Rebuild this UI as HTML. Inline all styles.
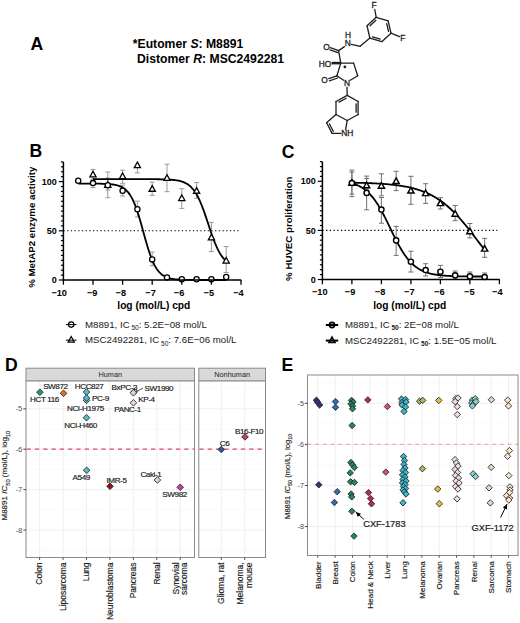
<!DOCTYPE html>
<html><head><meta charset="utf-8"><style>
html,body{margin:0;padding:0;background:#fff;width:520px;height:623px;overflow:hidden}
svg{display:block}
text{font-family:"Liberation Sans", sans-serif}
</style></head><body>
<svg width="520" height="623" viewBox="0 0 520 623">
<rect width="520" height="623" fill="#fff"/>
<g>
<text x="30.60" y="49.80" font-size="17.6" text-anchor="start" font-weight="bold" font-style="normal" fill="#000">A</text>
<text x="132.80" y="48.40" font-size="12.2" text-anchor="start" font-weight="bold" font-style="normal" fill="#000">*Eutomer <tspan font-style="italic">S</tspan>: M8891</text>
<text x="137.00" y="62.80" font-size="12.2" text-anchor="start" font-weight="bold" font-style="normal" fill="#000">Distomer <tspan font-style="italic">R</tspan>: MSC2492281</text>
<line x1="376.19" y1="17.32" x2="388.14" y2="20.98" stroke="#1e1e1e" stroke-width="1.3" stroke-linecap="round"/>
<line x1="388.14" y1="20.98" x2="390.95" y2="33.15" stroke="#1e1e1e" stroke-width="1.3" stroke-linecap="round"/>
<line x1="390.95" y1="33.15" x2="381.81" y2="41.68" stroke="#1e1e1e" stroke-width="1.3" stroke-linecap="round"/>
<line x1="381.81" y1="41.68" x2="369.86" y2="38.02" stroke="#1e1e1e" stroke-width="1.3" stroke-linecap="round"/>
<line x1="369.86" y1="38.02" x2="367.05" y2="25.85" stroke="#1e1e1e" stroke-width="1.3" stroke-linecap="round"/>
<line x1="367.05" y1="25.85" x2="376.19" y2="17.32" stroke="#1e1e1e" stroke-width="1.3" stroke-linecap="round"/>
<line x1="370.06" y1="25.77" x2="375.91" y2="20.32" stroke="#1e1e1e" stroke-width="1.3" stroke-linecap="round"/>
<line x1="386.70" y1="23.62" x2="388.50" y2="31.41" stroke="#1e1e1e" stroke-width="1.3" stroke-linecap="round"/>
<line x1="380.24" y1="39.11" x2="372.59" y2="36.77" stroke="#1e1e1e" stroke-width="1.3" stroke-linecap="round"/>
<line x1="376.19" y1="17.32" x2="374.80" y2="9.50" stroke="#1e1e1e" stroke-width="1.3" stroke-linecap="round"/>
<line x1="390.95" y1="33.15" x2="399.60" y2="36.60" stroke="#1e1e1e" stroke-width="1.3" stroke-linecap="round"/>
<text x="374.10" y="8.00" font-size="8.4" text-anchor="middle" font-weight="normal" font-style="normal" fill="#1e1e1e" stroke="#1e1e1e" stroke-width="0.3">F</text>
<text x="402.90" y="40.80" font-size="8.4" text-anchor="middle" font-weight="normal" font-style="normal" fill="#1e1e1e" stroke="#1e1e1e" stroke-width="0.3">F</text>
<line x1="369.86" y1="38.02" x2="360.20" y2="46.30" stroke="#1e1e1e" stroke-width="1.3" stroke-linecap="round"/>
<line x1="360.20" y1="46.30" x2="351.40" y2="44.40" stroke="#1e1e1e" stroke-width="1.3" stroke-linecap="round"/>
<text x="347.80" y="45.90" font-size="8.4" text-anchor="middle" font-weight="normal" font-style="normal" fill="#1e1e1e" stroke="#1e1e1e" stroke-width="0.3">N</text>
<text x="348.00" y="37.80" font-size="8.4" text-anchor="middle" font-weight="normal" font-style="normal" fill="#1e1e1e" stroke="#1e1e1e" stroke-width="0.3">H</text>
<line x1="344.40" y1="46.60" x2="338.60" y2="50.60" stroke="#1e1e1e" stroke-width="1.3" stroke-linecap="round"/>
<line x1="338.60" y1="50.60" x2="330.30" y2="47.60" stroke="#1e1e1e" stroke-width="1.3" stroke-linecap="round"/>
<line x1="337.90" y1="52.60" x2="330.00" y2="49.80" stroke="#1e1e1e" stroke-width="1.3" stroke-linecap="round"/>
<text x="326.60" y="49.90" font-size="8.4" text-anchor="middle" font-weight="normal" font-style="normal" fill="#1e1e1e" stroke="#1e1e1e" stroke-width="0.3">O</text>
<line x1="338.60" y1="50.60" x2="340.80" y2="63.10" stroke="#1e1e1e" stroke-width="1.3" stroke-linecap="round"/>
<line x1="331.60" y1="63.10" x2="340.80" y2="63.10" stroke="#1e1e1e" stroke-width="2.6"/>
<text x="325.00" y="66.50" font-size="8.4" text-anchor="middle" font-weight="normal" font-style="normal" fill="#1e1e1e" stroke="#1e1e1e" stroke-width="0.3">HO</text>
<line x1="340.80" y1="63.10" x2="353.60" y2="63.10" stroke="#1e1e1e" stroke-width="1.3" stroke-linecap="round"/>
<line x1="353.60" y1="63.10" x2="357.70" y2="75.80" stroke="#1e1e1e" stroke-width="1.3" stroke-linecap="round"/>
<line x1="357.70" y1="75.80" x2="350.30" y2="80.20" stroke="#1e1e1e" stroke-width="1.3" stroke-linecap="round"/>
<line x1="343.60" y1="80.20" x2="336.90" y2="75.80" stroke="#1e1e1e" stroke-width="1.3" stroke-linecap="round"/>
<line x1="336.90" y1="75.80" x2="340.80" y2="63.10" stroke="#1e1e1e" stroke-width="1.3" stroke-linecap="round"/>
<text x="347.00" y="86.10" font-size="8.4" text-anchor="middle" font-weight="normal" font-style="normal" fill="#1e1e1e" stroke="#1e1e1e" stroke-width="0.3">N</text>
<circle cx="344.9" cy="66.9" r="1.4" fill="#1e1e1e"/>
<line x1="336.90" y1="75.80" x2="328.80" y2="78.60" stroke="#1e1e1e" stroke-width="1.3" stroke-linecap="round"/>
<line x1="337.60" y1="78.00" x2="329.40" y2="80.80" stroke="#1e1e1e" stroke-width="1.3" stroke-linecap="round"/>
<text x="324.50" y="82.70" font-size="8.4" text-anchor="middle" font-weight="normal" font-style="normal" fill="#1e1e1e" stroke="#1e1e1e" stroke-width="0.3">O</text>
<line x1="347.00" y1="87.20" x2="347.20" y2="95.40" stroke="#1e1e1e" stroke-width="1.3" stroke-linecap="round"/>
<line x1="347.20" y1="95.40" x2="358.10" y2="101.50" stroke="#1e1e1e" stroke-width="1.3" stroke-linecap="round"/>
<line x1="358.10" y1="101.50" x2="358.10" y2="114.50" stroke="#1e1e1e" stroke-width="1.3" stroke-linecap="round"/>
<line x1="358.10" y1="114.50" x2="347.20" y2="120.50" stroke="#1e1e1e" stroke-width="1.3" stroke-linecap="round"/>
<line x1="347.20" y1="120.50" x2="336.00" y2="114.50" stroke="#1e1e1e" stroke-width="1.3" stroke-linecap="round"/>
<line x1="336.00" y1="114.50" x2="336.00" y2="101.50" stroke="#1e1e1e" stroke-width="1.3" stroke-linecap="round"/>
<line x1="336.00" y1="101.50" x2="347.20" y2="95.40" stroke="#1e1e1e" stroke-width="1.3" stroke-linecap="round"/>
<line x1="339.01" y1="102.14" x2="346.18" y2="98.23" stroke="#1e1e1e" stroke-width="1.3" stroke-linecap="round"/>
<line x1="356.10" y1="103.84" x2="356.10" y2="112.16" stroke="#1e1e1e" stroke-width="1.3" stroke-linecap="round"/>
<line x1="336.00" y1="114.50" x2="326.60" y2="122.70" stroke="#1e1e1e" stroke-width="1.3" stroke-linecap="round"/>
<line x1="326.60" y1="122.70" x2="332.10" y2="133.40" stroke="#1e1e1e" stroke-width="1.3" stroke-linecap="round"/>
<line x1="332.10" y1="133.40" x2="340.80" y2="133.40" stroke="#1e1e1e" stroke-width="1.3" stroke-linecap="round"/>
<line x1="347.20" y1="120.50" x2="345.60" y2="129.60" stroke="#1e1e1e" stroke-width="1.3" stroke-linecap="round"/>
<line x1="329.36" y1="123.82" x2="333.21" y2="131.31" stroke="#1e1e1e" stroke-width="1.3" stroke-linecap="round"/>
<text x="347.30" y="136.30" font-size="8.4" text-anchor="middle" font-weight="normal" font-style="normal" fill="#1e1e1e" stroke="#1e1e1e" stroke-width="0.3">NH</text>
</g>
<g>
<line x1="63.40" y1="230.80" x2="239.00" y2="230.80" stroke="#000" stroke-width="1.1" stroke-dasharray="1.3,2.4"/>
<line x1="93.00" y1="180.00" x2="93.00" y2="187.50" stroke="#9a9a9a" stroke-width="1.0"/>
<line x1="90.50" y1="180.00" x2="95.50" y2="180.00" stroke="#9a9a9a" stroke-width="1.0"/>
<line x1="90.50" y1="187.50" x2="95.50" y2="187.50" stroke="#9a9a9a" stroke-width="1.0"/>
<line x1="107.80" y1="172.00" x2="107.80" y2="197.70" stroke="#9a9a9a" stroke-width="1.0"/>
<line x1="105.30" y1="172.00" x2="110.30" y2="172.00" stroke="#9a9a9a" stroke-width="1.0"/>
<line x1="105.30" y1="197.70" x2="110.30" y2="197.70" stroke="#9a9a9a" stroke-width="1.0"/>
<line x1="122.60" y1="185.20" x2="122.60" y2="196.00" stroke="#9a9a9a" stroke-width="1.0"/>
<line x1="120.10" y1="185.20" x2="125.10" y2="185.20" stroke="#9a9a9a" stroke-width="1.0"/>
<line x1="120.10" y1="196.00" x2="125.10" y2="196.00" stroke="#9a9a9a" stroke-width="1.0"/>
<line x1="137.40" y1="201.10" x2="137.40" y2="217.00" stroke="#9a9a9a" stroke-width="1.0"/>
<line x1="134.90" y1="201.10" x2="139.90" y2="201.10" stroke="#9a9a9a" stroke-width="1.0"/>
<line x1="134.90" y1="217.00" x2="139.90" y2="217.00" stroke="#9a9a9a" stroke-width="1.0"/>
<line x1="152.20" y1="252.00" x2="152.20" y2="265.70" stroke="#9a9a9a" stroke-width="1.0"/>
<line x1="149.70" y1="252.00" x2="154.70" y2="252.00" stroke="#9a9a9a" stroke-width="1.0"/>
<line x1="149.70" y1="265.70" x2="154.70" y2="265.70" stroke="#9a9a9a" stroke-width="1.0"/>
<line x1="93.00" y1="169.40" x2="93.00" y2="179.00" stroke="#9a9a9a" stroke-width="1.0"/>
<line x1="90.50" y1="169.40" x2="95.50" y2="169.40" stroke="#9a9a9a" stroke-width="1.0"/>
<line x1="90.50" y1="179.00" x2="95.50" y2="179.00" stroke="#9a9a9a" stroke-width="1.0"/>
<line x1="107.80" y1="178.00" x2="107.80" y2="190.00" stroke="#9a9a9a" stroke-width="1.0"/>
<line x1="105.30" y1="178.00" x2="110.30" y2="178.00" stroke="#9a9a9a" stroke-width="1.0"/>
<line x1="105.30" y1="190.00" x2="110.30" y2="190.00" stroke="#9a9a9a" stroke-width="1.0"/>
<line x1="122.60" y1="170.20" x2="122.60" y2="183.30" stroke="#9a9a9a" stroke-width="1.0"/>
<line x1="120.10" y1="170.20" x2="125.10" y2="170.20" stroke="#9a9a9a" stroke-width="1.0"/>
<line x1="120.10" y1="183.30" x2="125.10" y2="183.30" stroke="#9a9a9a" stroke-width="1.0"/>
<line x1="137.40" y1="161.92" x2="137.40" y2="172.90" stroke="#9a9a9a" stroke-width="1.0"/>
<line x1="134.90" y1="172.90" x2="139.90" y2="172.90" stroke="#9a9a9a" stroke-width="1.0"/>
<line x1="152.20" y1="182.10" x2="152.20" y2="195.40" stroke="#9a9a9a" stroke-width="1.0"/>
<line x1="149.70" y1="182.10" x2="154.70" y2="182.10" stroke="#9a9a9a" stroke-width="1.0"/>
<line x1="149.70" y1="195.40" x2="154.70" y2="195.40" stroke="#9a9a9a" stroke-width="1.0"/>
<line x1="167.00" y1="164.20" x2="167.00" y2="191.70" stroke="#9a9a9a" stroke-width="1.0"/>
<line x1="164.50" y1="164.20" x2="169.50" y2="164.20" stroke="#9a9a9a" stroke-width="1.0"/>
<line x1="164.50" y1="191.70" x2="169.50" y2="191.70" stroke="#9a9a9a" stroke-width="1.0"/>
<line x1="181.80" y1="188.70" x2="181.80" y2="208.40" stroke="#9a9a9a" stroke-width="1.0"/>
<line x1="179.30" y1="188.70" x2="184.30" y2="188.70" stroke="#9a9a9a" stroke-width="1.0"/>
<line x1="179.30" y1="208.40" x2="184.30" y2="208.40" stroke="#9a9a9a" stroke-width="1.0"/>
<line x1="196.60" y1="182.60" x2="196.60" y2="198.30" stroke="#9a9a9a" stroke-width="1.0"/>
<line x1="194.10" y1="182.60" x2="199.10" y2="182.60" stroke="#9a9a9a" stroke-width="1.0"/>
<line x1="194.10" y1="198.30" x2="199.10" y2="198.30" stroke="#9a9a9a" stroke-width="1.0"/>
<line x1="211.40" y1="222.40" x2="211.40" y2="251.60" stroke="#9a9a9a" stroke-width="1.0"/>
<line x1="208.90" y1="222.40" x2="213.90" y2="222.40" stroke="#9a9a9a" stroke-width="1.0"/>
<line x1="208.90" y1="251.60" x2="213.90" y2="251.60" stroke="#9a9a9a" stroke-width="1.0"/>
<line x1="226.20" y1="246.60" x2="226.20" y2="272.50" stroke="#9a9a9a" stroke-width="1.0"/>
<line x1="223.70" y1="246.60" x2="228.70" y2="246.60" stroke="#9a9a9a" stroke-width="1.0"/>
<line x1="223.70" y1="272.50" x2="228.70" y2="272.50" stroke="#9a9a9a" stroke-width="1.0"/>
<polyline points="78.20,183.57 79.43,183.57 80.67,183.58 81.90,183.58 83.13,183.58 84.37,183.58 85.60,183.58 86.83,183.59 88.07,183.59 89.30,183.59 90.53,183.60 91.77,183.61 93.00,183.61 94.23,183.62 95.47,183.64 96.70,183.65 97.93,183.67 99.17,183.69 100.40,183.71 101.63,183.74 102.87,183.78 104.10,183.82 105.33,183.87 106.57,183.93 107.80,184.01 109.03,184.10 110.27,184.20 111.50,184.33 112.73,184.49 113.97,184.68 115.20,184.90 116.43,185.17 117.67,185.50 118.90,185.88 120.13,186.35 121.37,186.90 122.60,187.56 123.83,188.34 125.07,189.26 126.30,190.35 127.53,191.63 128.77,193.12 130.00,194.86 131.23,196.86 132.47,199.15 133.70,201.75 134.93,204.68 136.17,207.92 137.40,211.48 138.63,215.33 139.87,219.44 141.10,223.74 142.33,228.18 143.57,232.69 144.80,237.17 146.03,241.57 147.27,245.80 148.50,249.81 149.73,253.55 150.97,256.98 152.20,260.10 153.43,262.89 154.67,265.37 155.90,267.54 157.13,269.44 158.37,271.07 159.60,272.48 160.83,273.68 162.07,274.70 163.30,275.56 164.53,276.29 165.77,276.90 167.00,277.42 168.23,277.85 169.47,278.21 170.70,278.51 171.93,278.76 173.17,278.97 174.40,279.14 175.63,279.29 176.87,279.41 178.10,279.51 179.33,279.59 180.57,279.66 181.80,279.72 183.03,279.77 184.27,279.81 185.50,279.84 186.73,279.87 187.97,279.89 189.20,279.91 190.43,279.92 191.67,279.94 192.90,279.95 194.13,279.96 195.37,279.96 196.60,279.97 197.83,279.98 199.07,279.98 200.30,279.98 201.53,279.99 202.77,279.99 204.00,279.99 205.23,279.99 206.47,279.99 207.70,279.99 208.93,280.00 210.17,280.00 211.40,280.00 212.63,280.00 213.87,280.00 215.10,280.00 216.33,280.00 217.57,280.00 218.80,280.00 220.03,280.00 221.27,280.00 222.50,280.00 223.73,280.00 224.97,280.00 226.20,280.00" fill="none" stroke="#000" stroke-width="1.8" stroke-linejoin="round"/>
<polyline points="93.00,179.14 94.11,179.14 95.22,179.14 96.33,179.14 97.44,179.14 98.55,179.14 99.66,179.14 100.77,179.14 101.88,179.14 102.99,179.14 104.10,179.14 105.21,179.14 106.32,179.14 107.43,179.14 108.54,179.14 109.65,179.14 110.76,179.14 111.87,179.14 112.98,179.14 114.09,179.14 115.20,179.14 116.31,179.14 117.42,179.14 118.53,179.14 119.64,179.14 120.75,179.14 121.86,179.14 122.97,179.14 124.08,179.14 125.19,179.14 126.30,179.14 127.41,179.14 128.52,179.14 129.63,179.14 130.74,179.14 131.85,179.14 132.96,179.14 134.07,179.14 135.18,179.14 136.29,179.15 137.40,179.15 138.51,179.15 139.62,179.15 140.73,179.15 141.84,179.15 142.95,179.15 144.06,179.15 145.17,179.16 146.28,179.16 147.39,179.16 148.50,179.17 149.61,179.17 150.72,179.18 151.83,179.18 152.94,179.19 154.05,179.20 155.16,179.21 156.27,179.22 157.38,179.23 158.49,179.24 159.60,179.26 160.71,179.28 161.82,179.30 162.93,179.33 164.04,179.36 165.15,179.39 166.26,179.44 167.37,179.48 168.48,179.54 169.59,179.61 170.70,179.68 171.81,179.77 172.92,179.87 174.03,179.99 175.14,180.13 176.25,180.28 177.36,180.47 178.47,180.68 179.58,180.93 180.69,181.21 181.80,181.54 182.91,181.92 184.02,182.36 185.13,182.86 186.24,183.44 187.35,184.10 188.46,184.86 189.57,185.72 190.68,186.70 191.79,187.81 192.90,189.07 194.01,190.49 195.12,192.07 196.23,193.83 197.34,195.78 198.45,197.92 199.56,200.26 200.67,202.79 201.78,205.50 202.89,208.39 204.00,211.43 205.11,214.60 206.22,217.87 207.33,221.20 208.44,224.56 209.55,227.91 210.66,231.22 211.77,234.44 212.88,237.54 213.99,240.50 215.10,243.30 216.21,245.92 217.32,248.35 218.43,250.58 219.54,252.62 220.65,254.47 221.76,256.13 222.87,257.62 223.98,258.95 225.09,260.13 226.20,261.17" fill="none" stroke="#000" stroke-width="1.8" stroke-linejoin="round"/>
<polygon points="93.00,171.24 96.10,176.84 89.90,176.84" fill="#fff" stroke="#000" stroke-width="1.3" stroke-linejoin="miter"/>
<polygon points="107.80,181.64 110.90,187.24 104.70,187.24" fill="#fff" stroke="#000" stroke-width="1.3" stroke-linejoin="miter"/>
<polygon points="122.60,172.94 125.70,178.54 119.50,178.54" fill="#fff" stroke="#000" stroke-width="1.3" stroke-linejoin="miter"/>
<polygon points="137.40,162.04 140.50,167.64 134.30,167.64" fill="#fff" stroke="#000" stroke-width="1.3" stroke-linejoin="miter"/>
<polygon points="152.20,185.64 155.30,191.24 149.10,191.24" fill="#fff" stroke="#000" stroke-width="1.3" stroke-linejoin="miter"/>
<polygon points="167.00,174.74 170.10,180.34 163.90,180.34" fill="#fff" stroke="#000" stroke-width="1.3" stroke-linejoin="miter"/>
<polygon points="181.80,194.94 184.90,200.54 178.70,200.54" fill="#fff" stroke="#000" stroke-width="1.3" stroke-linejoin="miter"/>
<polygon points="196.60,187.64 199.70,193.24 193.50,193.24" fill="#fff" stroke="#000" stroke-width="1.3" stroke-linejoin="miter"/>
<polygon points="211.40,234.24 214.50,239.84 208.30,239.84" fill="#fff" stroke="#000" stroke-width="1.3" stroke-linejoin="miter"/>
<polygon points="226.20,257.44 229.30,263.04 223.10,263.04" fill="#fff" stroke="#000" stroke-width="1.3" stroke-linejoin="miter"/>
<circle cx="78.20" cy="180.80" r="2.6" fill="#fff" stroke="#000" stroke-width="1.3"/>
<circle cx="93.00" cy="183.10" r="2.6" fill="#fff" stroke="#000" stroke-width="1.3"/>
<circle cx="107.80" cy="185.20" r="2.6" fill="#fff" stroke="#000" stroke-width="1.3"/>
<circle cx="122.60" cy="190.80" r="2.6" fill="#fff" stroke="#000" stroke-width="1.3"/>
<circle cx="137.40" cy="209.20" r="2.6" fill="#fff" stroke="#000" stroke-width="1.3"/>
<circle cx="152.20" cy="259.40" r="2.6" fill="#fff" stroke="#000" stroke-width="1.3"/>
<circle cx="167.00" cy="277.40" r="2.6" fill="#fff" stroke="#000" stroke-width="1.3"/>
<circle cx="181.80" cy="279.20" r="2.6" fill="#fff" stroke="#000" stroke-width="1.3"/>
<circle cx="196.60" cy="279.20" r="2.6" fill="#fff" stroke="#000" stroke-width="1.3"/>
<circle cx="211.40" cy="279.20" r="2.6" fill="#fff" stroke="#000" stroke-width="1.3"/>
<circle cx="226.20" cy="277.00" r="2.6" fill="#fff" stroke="#000" stroke-width="1.3"/>
<line x1="63.40" y1="161.92" x2="63.40" y2="280.75" stroke="#000" stroke-width="1.5"/>
<line x1="62.65" y1="280.00" x2="241.30" y2="280.00" stroke="#000" stroke-width="1.5"/>
<line x1="58.80" y1="280.00" x2="63.40" y2="280.00" stroke="#000" stroke-width="1.2"/>
<line x1="60.90" y1="275.08" x2="63.40" y2="275.08" stroke="#000" stroke-width="1.2"/>
<line x1="60.90" y1="270.16" x2="63.40" y2="270.16" stroke="#000" stroke-width="1.2"/>
<line x1="60.90" y1="265.24" x2="63.40" y2="265.24" stroke="#000" stroke-width="1.2"/>
<line x1="60.90" y1="260.32" x2="63.40" y2="260.32" stroke="#000" stroke-width="1.2"/>
<line x1="60.90" y1="255.40" x2="63.40" y2="255.40" stroke="#000" stroke-width="1.2"/>
<line x1="60.90" y1="250.48" x2="63.40" y2="250.48" stroke="#000" stroke-width="1.2"/>
<line x1="60.90" y1="245.56" x2="63.40" y2="245.56" stroke="#000" stroke-width="1.2"/>
<line x1="60.90" y1="240.64" x2="63.40" y2="240.64" stroke="#000" stroke-width="1.2"/>
<line x1="60.90" y1="235.72" x2="63.40" y2="235.72" stroke="#000" stroke-width="1.2"/>
<line x1="58.80" y1="230.80" x2="63.40" y2="230.80" stroke="#000" stroke-width="1.2"/>
<line x1="60.90" y1="225.88" x2="63.40" y2="225.88" stroke="#000" stroke-width="1.2"/>
<line x1="60.90" y1="220.96" x2="63.40" y2="220.96" stroke="#000" stroke-width="1.2"/>
<line x1="60.90" y1="216.04" x2="63.40" y2="216.04" stroke="#000" stroke-width="1.2"/>
<line x1="60.90" y1="211.12" x2="63.40" y2="211.12" stroke="#000" stroke-width="1.2"/>
<line x1="60.90" y1="206.20" x2="63.40" y2="206.20" stroke="#000" stroke-width="1.2"/>
<line x1="60.90" y1="201.28" x2="63.40" y2="201.28" stroke="#000" stroke-width="1.2"/>
<line x1="60.90" y1="196.36" x2="63.40" y2="196.36" stroke="#000" stroke-width="1.2"/>
<line x1="60.90" y1="191.44" x2="63.40" y2="191.44" stroke="#000" stroke-width="1.2"/>
<line x1="60.90" y1="186.52" x2="63.40" y2="186.52" stroke="#000" stroke-width="1.2"/>
<line x1="58.80" y1="181.60" x2="63.40" y2="181.60" stroke="#000" stroke-width="1.2"/>
<line x1="60.90" y1="176.68" x2="63.40" y2="176.68" stroke="#000" stroke-width="1.2"/>
<line x1="60.90" y1="171.76" x2="63.40" y2="171.76" stroke="#000" stroke-width="1.2"/>
<line x1="60.90" y1="166.84" x2="63.40" y2="166.84" stroke="#000" stroke-width="1.2"/>
<line x1="60.90" y1="161.92" x2="63.40" y2="161.92" stroke="#000" stroke-width="1.2"/>
<line x1="63.40" y1="280.00" x2="63.40" y2="284.70" stroke="#000" stroke-width="1.3"/>
<line x1="93.00" y1="280.00" x2="93.00" y2="284.70" stroke="#000" stroke-width="1.3"/>
<line x1="122.60" y1="280.00" x2="122.60" y2="284.70" stroke="#000" stroke-width="1.3"/>
<line x1="152.20" y1="280.00" x2="152.20" y2="284.70" stroke="#000" stroke-width="1.3"/>
<line x1="181.80" y1="280.00" x2="181.80" y2="284.70" stroke="#000" stroke-width="1.3"/>
<line x1="211.40" y1="280.00" x2="211.40" y2="284.70" stroke="#000" stroke-width="1.3"/>
<line x1="241.00" y1="280.00" x2="241.00" y2="284.70" stroke="#000" stroke-width="1.3"/>
<text x="56.80" y="283.10" font-size="9.0" text-anchor="end" font-weight="bold" font-style="normal" fill="#000">0</text>
<text x="56.80" y="233.90" font-size="9.0" text-anchor="end" font-weight="bold" font-style="normal" fill="#000">50</text>
<text x="56.80" y="184.70" font-size="9.0" text-anchor="end" font-weight="bold" font-style="normal" fill="#000">100</text>
<text x="59.20" y="295.60" font-size="9.2" text-anchor="middle" font-weight="bold" font-style="normal" fill="#000">−10</text>
<text x="92.20" y="295.60" font-size="9.2" text-anchor="middle" font-weight="bold" font-style="normal" fill="#000">−9</text>
<text x="120.80" y="295.60" font-size="9.2" text-anchor="middle" font-weight="bold" font-style="normal" fill="#000">−8</text>
<text x="150.60" y="295.60" font-size="9.2" text-anchor="middle" font-weight="bold" font-style="normal" fill="#000">−7</text>
<text x="179.10" y="295.60" font-size="9.2" text-anchor="middle" font-weight="bold" font-style="normal" fill="#000">−6</text>
<text x="208.80" y="295.60" font-size="9.2" text-anchor="middle" font-weight="bold" font-style="normal" fill="#000">−5</text>
<text x="238.40" y="295.60" font-size="9.2" text-anchor="middle" font-weight="bold" font-style="normal" fill="#000">−4</text>
<text x="153.80" y="309.40" font-size="10.2" text-anchor="middle" font-weight="bold" font-style="normal" fill="#000">log (mol/L) cpd</text>
<text x="34.80" y="227.20" font-size="9.7" text-anchor="middle" font-weight="bold" font-style="normal" fill="#000" transform="rotate(-90 34.8 227.2)">% MetAP2 enzyme activity</text>
<line x1="65.90" y1="324.60" x2="76.50" y2="324.60" stroke="#000" stroke-width="1.0"/>
<circle cx="71.20" cy="324.60" r="2.7" fill="none" stroke="#000" stroke-width="1.2"/>
<text x="85.00" y="327.70" font-size="9.7" fill="#1a1a1a">M8891, IC<tspan font-size="6.6" dx="1.7" dy="2.2">50</tspan><tspan dy="-2.2">: 5.2E−08 mol/L</tspan></text>
<line x1="65.90" y1="340.20" x2="76.50" y2="340.20" stroke="#000" stroke-width="1.0"/>
<polygon points="71.20,336.54 74.30,342.14 68.10,342.14" fill="none" stroke="#000" stroke-width="1.2"/>
<text x="85.00" y="343.30" font-size="9.7" fill="#1a1a1a">MSC2492281, IC<tspan font-size="6.6" dx="1.7" dy="2.2">50</tspan><tspan dy="-2.2">: 7.6E−06 mol/L</tspan></text>
<line x1="322.40" y1="230.40" x2="497.40" y2="230.40" stroke="#000" stroke-width="1.1" stroke-dasharray="1.3,2.4"/>
<line x1="351.90" y1="170.10" x2="351.90" y2="196.70" stroke="#707070" stroke-width="1.0"/>
<line x1="349.40" y1="170.10" x2="354.40" y2="170.10" stroke="#707070" stroke-width="1.0"/>
<line x1="349.40" y1="196.70" x2="354.40" y2="196.70" stroke="#707070" stroke-width="1.0"/>
<line x1="366.65" y1="178.50" x2="366.65" y2="209.80" stroke="#707070" stroke-width="1.0"/>
<line x1="364.15" y1="178.50" x2="369.15" y2="178.50" stroke="#707070" stroke-width="1.0"/>
<line x1="364.15" y1="209.80" x2="369.15" y2="209.80" stroke="#707070" stroke-width="1.0"/>
<line x1="381.40" y1="197.50" x2="381.40" y2="223.20" stroke="#707070" stroke-width="1.0"/>
<line x1="378.90" y1="197.50" x2="383.90" y2="197.50" stroke="#707070" stroke-width="1.0"/>
<line x1="378.90" y1="223.20" x2="383.90" y2="223.20" stroke="#707070" stroke-width="1.0"/>
<line x1="396.15" y1="226.40" x2="396.15" y2="255.40" stroke="#707070" stroke-width="1.0"/>
<line x1="393.65" y1="226.40" x2="398.65" y2="226.40" stroke="#707070" stroke-width="1.0"/>
<line x1="393.65" y1="255.40" x2="398.65" y2="255.40" stroke="#707070" stroke-width="1.0"/>
<line x1="410.90" y1="251.20" x2="410.90" y2="272.00" stroke="#707070" stroke-width="1.0"/>
<line x1="408.40" y1="251.20" x2="413.40" y2="251.20" stroke="#707070" stroke-width="1.0"/>
<line x1="408.40" y1="272.00" x2="413.40" y2="272.00" stroke="#707070" stroke-width="1.0"/>
<line x1="425.65" y1="263.70" x2="425.65" y2="276.00" stroke="#707070" stroke-width="1.0"/>
<line x1="423.15" y1="263.70" x2="428.15" y2="263.70" stroke="#707070" stroke-width="1.0"/>
<line x1="423.15" y1="276.00" x2="428.15" y2="276.00" stroke="#707070" stroke-width="1.0"/>
<line x1="440.40" y1="265.40" x2="440.40" y2="277.50" stroke="#707070" stroke-width="1.0"/>
<line x1="437.90" y1="265.40" x2="442.90" y2="265.40" stroke="#707070" stroke-width="1.0"/>
<line x1="437.90" y1="277.50" x2="442.90" y2="277.50" stroke="#707070" stroke-width="1.0"/>
<line x1="455.15" y1="271.00" x2="455.15" y2="279.00" stroke="#707070" stroke-width="1.0"/>
<line x1="452.65" y1="271.00" x2="457.65" y2="271.00" stroke="#707070" stroke-width="1.0"/>
<line x1="452.65" y1="279.00" x2="457.65" y2="279.00" stroke="#707070" stroke-width="1.0"/>
<line x1="469.90" y1="272.00" x2="469.90" y2="279.00" stroke="#707070" stroke-width="1.0"/>
<line x1="467.40" y1="272.00" x2="472.40" y2="272.00" stroke="#707070" stroke-width="1.0"/>
<line x1="467.40" y1="279.00" x2="472.40" y2="279.00" stroke="#707070" stroke-width="1.0"/>
<line x1="484.65" y1="273.00" x2="484.65" y2="279.00" stroke="#707070" stroke-width="1.0"/>
<line x1="482.15" y1="273.00" x2="487.15" y2="273.00" stroke="#707070" stroke-width="1.0"/>
<line x1="482.15" y1="279.00" x2="487.15" y2="279.00" stroke="#707070" stroke-width="1.0"/>
<line x1="351.90" y1="172.00" x2="351.90" y2="194.00" stroke="#707070" stroke-width="1.0"/>
<line x1="349.40" y1="172.00" x2="354.40" y2="172.00" stroke="#707070" stroke-width="1.0"/>
<line x1="349.40" y1="194.00" x2="354.40" y2="194.00" stroke="#707070" stroke-width="1.0"/>
<line x1="366.65" y1="176.10" x2="366.65" y2="189.00" stroke="#707070" stroke-width="1.0"/>
<line x1="364.15" y1="176.10" x2="369.15" y2="176.10" stroke="#707070" stroke-width="1.0"/>
<line x1="364.15" y1="189.00" x2="369.15" y2="189.00" stroke="#707070" stroke-width="1.0"/>
<line x1="381.40" y1="173.80" x2="381.40" y2="195.80" stroke="#707070" stroke-width="1.0"/>
<line x1="378.90" y1="173.80" x2="383.90" y2="173.80" stroke="#707070" stroke-width="1.0"/>
<line x1="378.90" y1="195.80" x2="383.90" y2="195.80" stroke="#707070" stroke-width="1.0"/>
<line x1="396.15" y1="171.30" x2="396.15" y2="190.60" stroke="#707070" stroke-width="1.0"/>
<line x1="393.65" y1="171.30" x2="398.65" y2="171.30" stroke="#707070" stroke-width="1.0"/>
<line x1="393.65" y1="190.60" x2="398.65" y2="190.60" stroke="#707070" stroke-width="1.0"/>
<line x1="410.90" y1="176.30" x2="410.90" y2="204.30" stroke="#707070" stroke-width="1.0"/>
<line x1="408.40" y1="176.30" x2="413.40" y2="176.30" stroke="#707070" stroke-width="1.0"/>
<line x1="408.40" y1="204.30" x2="413.40" y2="204.30" stroke="#707070" stroke-width="1.0"/>
<line x1="425.65" y1="183.70" x2="425.65" y2="203.40" stroke="#707070" stroke-width="1.0"/>
<line x1="423.15" y1="183.70" x2="428.15" y2="183.70" stroke="#707070" stroke-width="1.0"/>
<line x1="423.15" y1="203.40" x2="428.15" y2="203.40" stroke="#707070" stroke-width="1.0"/>
<line x1="440.40" y1="197.70" x2="440.40" y2="209.00" stroke="#707070" stroke-width="1.0"/>
<line x1="437.90" y1="197.70" x2="442.90" y2="197.70" stroke="#707070" stroke-width="1.0"/>
<line x1="437.90" y1="209.00" x2="442.90" y2="209.00" stroke="#707070" stroke-width="1.0"/>
<line x1="455.15" y1="205.50" x2="455.15" y2="220.70" stroke="#707070" stroke-width="1.0"/>
<line x1="452.65" y1="205.50" x2="457.65" y2="205.50" stroke="#707070" stroke-width="1.0"/>
<line x1="452.65" y1="220.70" x2="457.65" y2="220.70" stroke="#707070" stroke-width="1.0"/>
<line x1="469.90" y1="223.50" x2="469.90" y2="237.90" stroke="#707070" stroke-width="1.0"/>
<line x1="467.40" y1="223.50" x2="472.40" y2="223.50" stroke="#707070" stroke-width="1.0"/>
<line x1="467.40" y1="237.90" x2="472.40" y2="237.90" stroke="#707070" stroke-width="1.0"/>
<line x1="484.65" y1="238.30" x2="484.65" y2="257.30" stroke="#707070" stroke-width="1.0"/>
<line x1="482.15" y1="238.30" x2="487.15" y2="238.30" stroke="#707070" stroke-width="1.0"/>
<line x1="482.15" y1="257.30" x2="487.15" y2="257.30" stroke="#707070" stroke-width="1.0"/>
<polyline points="351.90,183.29 353.01,183.62 354.11,183.99 355.22,184.38 356.32,184.81 357.43,185.28 358.54,185.79 359.64,186.34 360.75,186.94 361.86,187.60 362.96,188.30 364.07,189.07 365.17,189.89 366.28,190.78 367.39,191.74 368.49,192.77 369.60,193.87 370.71,195.05 371.81,196.31 372.92,197.65 374.02,199.07 375.13,200.57 376.24,202.16 377.34,203.84 378.45,205.59 379.56,207.43 380.66,209.34 381.77,211.32 382.88,213.37 383.98,215.48 385.09,217.64 386.19,219.85 387.30,222.10 388.41,224.37 389.51,226.66 390.62,228.96 391.72,231.25 392.83,233.53 393.94,235.78 395.04,238.01 396.15,240.18 397.26,242.31 398.36,244.38 399.47,246.39 400.57,248.33 401.68,250.19 402.79,251.97 403.89,253.67 405.00,255.29 406.11,256.82 407.21,258.27 408.32,259.64 409.42,260.92 410.53,262.13 411.64,263.26 412.74,264.31 413.85,265.29 414.96,266.20 416.06,267.05 417.17,267.83 418.27,268.55 419.38,269.22 420.49,269.84 421.59,270.41 422.70,270.94 423.81,271.42 424.91,271.86 426.02,272.27 427.12,272.64 428.23,272.98 429.34,273.29 430.44,273.58 431.55,273.84 432.66,274.08 433.76,274.30 434.87,274.50 435.97,274.68 437.08,274.85 438.19,275.00 439.29,275.14 440.40,275.27 441.51,275.38 442.61,275.49 443.72,275.58 444.82,275.67 445.93,275.75 447.04,275.82 448.14,275.89 449.25,275.95 450.36,276.00 451.46,276.05 452.57,276.10 453.67,276.14 454.78,276.18 455.89,276.21 456.99,276.24 458.10,276.27 459.21,276.30 460.31,276.32 461.42,276.34 462.52,276.36 463.63,276.38 464.74,276.39 465.84,276.41 466.95,276.42 468.06,276.43 469.16,276.44 470.27,276.45 471.38,276.46 472.48,276.47 473.59,276.48 474.69,276.49 475.80,276.49 476.91,276.50 478.01,276.50 479.12,276.51 480.22,276.51 481.33,276.52 482.44,276.52 483.54,276.52 484.65,276.52" fill="none" stroke="#000" stroke-width="1.8" stroke-linejoin="round"/>
<polyline points="351.90,182.68 353.01,182.70 354.11,182.72 355.22,182.74 356.32,182.77 357.43,182.79 358.54,182.82 359.64,182.84 360.75,182.87 361.86,182.90 362.96,182.93 364.07,182.97 365.17,183.00 366.28,183.04 367.39,183.08 368.49,183.12 369.60,183.16 370.71,183.21 371.81,183.25 372.92,183.30 374.02,183.35 375.13,183.41 376.24,183.47 377.34,183.53 378.45,183.59 379.56,183.65 380.66,183.72 381.77,183.80 382.88,183.87 383.98,183.95 385.09,184.04 386.19,184.13 387.30,184.22 388.41,184.32 389.51,184.42 390.62,184.53 391.72,184.64 392.83,184.76 393.94,184.89 395.04,185.02 396.15,185.15 397.26,185.30 398.36,185.45 399.47,185.61 400.57,185.77 401.68,185.94 402.79,186.13 403.89,186.32 405.00,186.52 406.11,186.73 407.21,186.94 408.32,187.17 409.42,187.41 410.53,187.67 411.64,187.93 412.74,188.20 413.85,188.49 414.96,188.79 416.06,189.11 417.17,189.44 418.27,189.78 419.38,190.14 420.49,190.51 421.59,190.91 422.70,191.31 423.81,191.74 424.91,192.18 426.02,192.65 427.12,193.13 428.23,193.63 429.34,194.15 430.44,194.70 431.55,195.27 432.66,195.85 433.76,196.47 434.87,197.10 435.97,197.76 437.08,198.44 438.19,199.15 439.29,199.89 440.40,200.65 441.51,201.44 442.61,202.25 443.72,203.09 444.82,203.96 445.93,204.86 447.04,205.78 448.14,206.73 449.25,207.71 450.36,208.72 451.46,209.76 452.57,210.82 453.67,211.91 454.78,213.03 455.89,214.17 456.99,215.35 458.10,216.54 459.21,217.76 460.31,219.01 461.42,220.27 462.52,221.56 463.63,222.87 464.74,224.21 465.84,225.55 466.95,226.92 468.06,228.30 469.16,229.70 470.27,231.11 471.38,232.53 472.48,233.96 473.59,235.40 474.69,236.84 475.80,238.29 476.91,239.74 478.01,241.19 479.12,242.64 480.22,244.08 481.33,245.52 482.44,246.96 483.54,248.39 484.65,249.80" fill="none" stroke="#000" stroke-width="1.8" stroke-linejoin="round"/>
<polygon points="351.90,179.64 355.00,185.24 348.80,185.24" fill="#fff" stroke="#000" stroke-width="1.45" stroke-linejoin="miter"/>
<polygon points="366.65,182.24 369.75,187.84 363.55,187.84" fill="#fff" stroke="#000" stroke-width="1.45" stroke-linejoin="miter"/>
<polygon points="381.40,182.64 384.50,188.24 378.30,188.24" fill="#fff" stroke="#000" stroke-width="1.45" stroke-linejoin="miter"/>
<polygon points="396.15,177.94 399.25,183.54 393.05,183.54" fill="#fff" stroke="#000" stroke-width="1.45" stroke-linejoin="miter"/>
<polygon points="410.90,187.44 414.00,193.04 407.80,193.04" fill="#fff" stroke="#000" stroke-width="1.45" stroke-linejoin="miter"/>
<polygon points="425.65,190.04 428.75,195.64 422.55,195.64" fill="#fff" stroke="#000" stroke-width="1.45" stroke-linejoin="miter"/>
<polygon points="440.40,200.04 443.50,205.64 437.30,205.64" fill="#fff" stroke="#000" stroke-width="1.45" stroke-linejoin="miter"/>
<polygon points="455.15,210.64 458.25,216.24 452.05,216.24" fill="#fff" stroke="#000" stroke-width="1.45" stroke-linejoin="miter"/>
<polygon points="469.90,228.14 473.00,233.74 466.80,233.74" fill="#fff" stroke="#000" stroke-width="1.45" stroke-linejoin="miter"/>
<polygon points="484.65,245.54 487.75,251.14 481.55,251.14" fill="#fff" stroke="#000" stroke-width="1.45" stroke-linejoin="miter"/>
<circle cx="351.90" cy="183.00" r="2.6" fill="#fff" stroke="#000" stroke-width="1.45"/>
<circle cx="366.65" cy="192.90" r="2.6" fill="#fff" stroke="#000" stroke-width="1.45"/>
<circle cx="381.40" cy="209.60" r="2.6" fill="#fff" stroke="#000" stroke-width="1.45"/>
<circle cx="396.15" cy="240.40" r="2.6" fill="#fff" stroke="#000" stroke-width="1.45"/>
<circle cx="410.90" cy="261.70" r="2.6" fill="#fff" stroke="#000" stroke-width="1.45"/>
<circle cx="425.65" cy="270.00" r="2.6" fill="#fff" stroke="#000" stroke-width="1.45"/>
<circle cx="440.40" cy="271.70" r="2.6" fill="#fff" stroke="#000" stroke-width="1.45"/>
<circle cx="455.15" cy="275.30" r="2.6" fill="#fff" stroke="#000" stroke-width="1.45"/>
<circle cx="469.90" cy="276.40" r="2.6" fill="#fff" stroke="#000" stroke-width="1.45"/>
<circle cx="484.65" cy="277.00" r="2.6" fill="#fff" stroke="#000" stroke-width="1.45"/>
<line x1="322.40" y1="161.66" x2="322.40" y2="280.25" stroke="#000" stroke-width="1.5"/>
<line x1="321.65" y1="279.50" x2="499.70" y2="279.50" stroke="#000" stroke-width="1.5"/>
<line x1="317.80" y1="279.50" x2="322.40" y2="279.50" stroke="#000" stroke-width="1.2"/>
<line x1="319.90" y1="274.59" x2="322.40" y2="274.59" stroke="#000" stroke-width="1.2"/>
<line x1="319.90" y1="269.68" x2="322.40" y2="269.68" stroke="#000" stroke-width="1.2"/>
<line x1="319.90" y1="264.77" x2="322.40" y2="264.77" stroke="#000" stroke-width="1.2"/>
<line x1="319.90" y1="259.86" x2="322.40" y2="259.86" stroke="#000" stroke-width="1.2"/>
<line x1="319.90" y1="254.95" x2="322.40" y2="254.95" stroke="#000" stroke-width="1.2"/>
<line x1="319.90" y1="250.04" x2="322.40" y2="250.04" stroke="#000" stroke-width="1.2"/>
<line x1="319.90" y1="245.13" x2="322.40" y2="245.13" stroke="#000" stroke-width="1.2"/>
<line x1="319.90" y1="240.22" x2="322.40" y2="240.22" stroke="#000" stroke-width="1.2"/>
<line x1="319.90" y1="235.31" x2="322.40" y2="235.31" stroke="#000" stroke-width="1.2"/>
<line x1="317.80" y1="230.40" x2="322.40" y2="230.40" stroke="#000" stroke-width="1.2"/>
<line x1="319.90" y1="225.49" x2="322.40" y2="225.49" stroke="#000" stroke-width="1.2"/>
<line x1="319.90" y1="220.58" x2="322.40" y2="220.58" stroke="#000" stroke-width="1.2"/>
<line x1="319.90" y1="215.67" x2="322.40" y2="215.67" stroke="#000" stroke-width="1.2"/>
<line x1="319.90" y1="210.76" x2="322.40" y2="210.76" stroke="#000" stroke-width="1.2"/>
<line x1="319.90" y1="205.85" x2="322.40" y2="205.85" stroke="#000" stroke-width="1.2"/>
<line x1="319.90" y1="200.94" x2="322.40" y2="200.94" stroke="#000" stroke-width="1.2"/>
<line x1="319.90" y1="196.03" x2="322.40" y2="196.03" stroke="#000" stroke-width="1.2"/>
<line x1="319.90" y1="191.12" x2="322.40" y2="191.12" stroke="#000" stroke-width="1.2"/>
<line x1="319.90" y1="186.21" x2="322.40" y2="186.21" stroke="#000" stroke-width="1.2"/>
<line x1="317.80" y1="181.30" x2="322.40" y2="181.30" stroke="#000" stroke-width="1.2"/>
<line x1="319.90" y1="176.39" x2="322.40" y2="176.39" stroke="#000" stroke-width="1.2"/>
<line x1="319.90" y1="171.48" x2="322.40" y2="171.48" stroke="#000" stroke-width="1.2"/>
<line x1="319.90" y1="166.57" x2="322.40" y2="166.57" stroke="#000" stroke-width="1.2"/>
<line x1="319.90" y1="161.66" x2="322.40" y2="161.66" stroke="#000" stroke-width="1.2"/>
<line x1="322.40" y1="279.50" x2="322.40" y2="284.20" stroke="#000" stroke-width="1.3"/>
<line x1="351.90" y1="279.50" x2="351.90" y2="284.20" stroke="#000" stroke-width="1.3"/>
<line x1="381.40" y1="279.50" x2="381.40" y2="284.20" stroke="#000" stroke-width="1.3"/>
<line x1="410.90" y1="279.50" x2="410.90" y2="284.20" stroke="#000" stroke-width="1.3"/>
<line x1="440.40" y1="279.50" x2="440.40" y2="284.20" stroke="#000" stroke-width="1.3"/>
<line x1="469.90" y1="279.50" x2="469.90" y2="284.20" stroke="#000" stroke-width="1.3"/>
<line x1="499.40" y1="279.50" x2="499.40" y2="284.20" stroke="#000" stroke-width="1.3"/>
<text x="315.80" y="282.60" font-size="9.0" text-anchor="end" font-weight="bold" font-style="normal" fill="#000">0</text>
<text x="315.80" y="233.50" font-size="9.0" text-anchor="end" font-weight="bold" font-style="normal" fill="#000">50</text>
<text x="315.80" y="184.40" font-size="9.0" text-anchor="end" font-weight="bold" font-style="normal" fill="#000">100</text>
<text x="319.80" y="295.10" font-size="9.2" text-anchor="middle" font-weight="bold" font-style="normal" fill="#000">−10</text>
<text x="350.10" y="295.10" font-size="9.2" text-anchor="middle" font-weight="bold" font-style="normal" fill="#000">−9</text>
<text x="380.10" y="295.10" font-size="9.2" text-anchor="middle" font-weight="bold" font-style="normal" fill="#000">−8</text>
<text x="409.30" y="295.10" font-size="9.2" text-anchor="middle" font-weight="bold" font-style="normal" fill="#000">−7</text>
<text x="439.30" y="295.10" font-size="9.2" text-anchor="middle" font-weight="bold" font-style="normal" fill="#000">−6</text>
<text x="469.30" y="295.10" font-size="9.2" text-anchor="middle" font-weight="bold" font-style="normal" fill="#000">−5</text>
<text x="497.30" y="295.10" font-size="9.2" text-anchor="middle" font-weight="bold" font-style="normal" fill="#000">−4</text>
<text x="409.70" y="308.90" font-size="10.2" text-anchor="middle" font-weight="bold" font-style="normal" fill="#000">log (mol/L) cpd</text>
<text x="292.40" y="228.70" font-size="9.7" text-anchor="middle" font-weight="bold" font-style="normal" fill="#000" transform="rotate(-90 292.4 228.7)">% HUVEC proliferation</text>
<line x1="325.80" y1="325.00" x2="338.20" y2="325.00" stroke="#000" stroke-width="2.0"/>
<circle cx="332.00" cy="325.00" r="2.6" fill="none" stroke="#000" stroke-width="1.6"/>
<text x="345.00" y="328.10" font-size="9.7" fill="#1a1a1a">M8891, IC<tspan font-size="6.6" font-weight="bold" dx="1.7" dy="2.2">50</tspan><tspan dy="-2.2">: 2E−08 mol/L</tspan></text>
<line x1="325.80" y1="340.60" x2="338.20" y2="340.60" stroke="#000" stroke-width="2.0"/>
<polygon points="332.00,337.11 334.94,342.43 329.06,342.43" fill="none" stroke="#000" stroke-width="1.6"/>
<text x="345.00" y="343.70" font-size="9.7" fill="#1a1a1a">MSC2492281, IC<tspan font-size="6.6" font-weight="bold" dx="1.7" dy="2.2">50</tspan><tspan dy="-2.2">: 1.5E−05 mol/L</tspan></text>
<text x="29.60" y="156.60" font-size="17.6" text-anchor="start" font-weight="bold" font-style="normal" fill="#000">B</text>
<text x="281.80" y="158.00" font-size="17.6" text-anchor="start" font-weight="bold" font-style="normal" fill="#000">C</text>
</g>
<g>
<rect x="26.0" y="380.8" width="168.5" height="176.7" fill="#fff"/>
<line x1="26.00" y1="388.60" x2="194.50" y2="388.60" stroke="#f5f5f5" stroke-width="0.6"/>
<line x1="26.00" y1="429.00" x2="194.50" y2="429.00" stroke="#f5f5f5" stroke-width="0.6"/>
<line x1="26.00" y1="469.40" x2="194.50" y2="469.40" stroke="#f5f5f5" stroke-width="0.6"/>
<line x1="26.00" y1="509.80" x2="194.50" y2="509.80" stroke="#f5f5f5" stroke-width="0.6"/>
<line x1="26.00" y1="550.20" x2="194.50" y2="550.20" stroke="#f5f5f5" stroke-width="0.6"/>
<line x1="26.00" y1="408.80" x2="194.50" y2="408.80" stroke="#ededed" stroke-width="0.9"/>
<line x1="26.00" y1="449.20" x2="194.50" y2="449.20" stroke="#ededed" stroke-width="0.9"/>
<line x1="26.00" y1="489.60" x2="194.50" y2="489.60" stroke="#ededed" stroke-width="0.9"/>
<line x1="26.00" y1="530.00" x2="194.50" y2="530.00" stroke="#ededed" stroke-width="0.9"/>
<line x1="39.60" y1="380.80" x2="39.60" y2="557.50" stroke="#ededed" stroke-width="0.9"/>
<line x1="63.03" y1="380.80" x2="63.03" y2="557.50" stroke="#ededed" stroke-width="0.9"/>
<line x1="86.46" y1="380.80" x2="86.46" y2="557.50" stroke="#ededed" stroke-width="0.9"/>
<line x1="109.89" y1="380.80" x2="109.89" y2="557.50" stroke="#ededed" stroke-width="0.9"/>
<line x1="133.32" y1="380.80" x2="133.32" y2="557.50" stroke="#ededed" stroke-width="0.9"/>
<line x1="156.75" y1="380.80" x2="156.75" y2="557.50" stroke="#ededed" stroke-width="0.9"/>
<line x1="180.18" y1="380.80" x2="180.18" y2="557.50" stroke="#ededed" stroke-width="0.9"/>
<rect x="198.8" y="380.8" width="66.69999999999999" height="176.7" fill="#fff"/>
<line x1="198.80" y1="388.60" x2="265.50" y2="388.60" stroke="#f5f5f5" stroke-width="0.6"/>
<line x1="198.80" y1="429.00" x2="265.50" y2="429.00" stroke="#f5f5f5" stroke-width="0.6"/>
<line x1="198.80" y1="469.40" x2="265.50" y2="469.40" stroke="#f5f5f5" stroke-width="0.6"/>
<line x1="198.80" y1="509.80" x2="265.50" y2="509.80" stroke="#f5f5f5" stroke-width="0.6"/>
<line x1="198.80" y1="550.20" x2="265.50" y2="550.20" stroke="#f5f5f5" stroke-width="0.6"/>
<line x1="198.80" y1="408.80" x2="265.50" y2="408.80" stroke="#ededed" stroke-width="0.9"/>
<line x1="198.80" y1="449.20" x2="265.50" y2="449.20" stroke="#ededed" stroke-width="0.9"/>
<line x1="198.80" y1="489.60" x2="265.50" y2="489.60" stroke="#ededed" stroke-width="0.9"/>
<line x1="198.80" y1="530.00" x2="265.50" y2="530.00" stroke="#ededed" stroke-width="0.9"/>
<line x1="221.30" y1="380.80" x2="221.30" y2="557.50" stroke="#ededed" stroke-width="0.9"/>
<line x1="244.70" y1="380.80" x2="244.70" y2="557.50" stroke="#ededed" stroke-width="0.9"/>
<line x1="26.0" y1="449.20" x2="194.5" y2="449.20" stroke="#e0485e" stroke-width="1.2" stroke-dasharray="4.4,3.9" stroke-dashoffset="-0.5"/>
<line x1="198.8" y1="449.20" x2="265.5" y2="449.20" stroke="#e0485e" stroke-width="1.2" stroke-dasharray="4.4,3.9" stroke-dashoffset="-0.5"/>
<rect x="26.0" y="380.8" width="168.5" height="176.7" fill="none" stroke="#8a8a8a" stroke-width="1"/>
<rect x="26.0" y="368.2" width="168.5" height="12.600000000000023" fill="#d9d9d9" stroke="#8a8a8a" stroke-width="1"/>
<rect x="198.8" y="380.8" width="66.69999999999999" height="176.7" fill="none" stroke="#8a8a8a" stroke-width="1"/>
<rect x="198.8" y="368.2" width="66.69999999999999" height="12.600000000000023" fill="#d9d9d9" stroke="#8a8a8a" stroke-width="1"/>
<text x="110.25" y="377.20" font-size="7.3" text-anchor="middle" font-weight="normal" font-style="normal" fill="#1a1a1a">Human</text>
<text x="232.15" y="377.20" font-size="7.3" text-anchor="middle" font-weight="normal" font-style="normal" fill="#1a1a1a">Nonhuman</text>
<line x1="23.30" y1="408.80" x2="26.00" y2="408.80" stroke="#333" stroke-width="0.9"/>
<text x="22.20" y="411.40" font-size="7.6" text-anchor="end" font-weight="normal" font-style="normal" fill="#4d4d4d">-5</text>
<line x1="23.30" y1="449.20" x2="26.00" y2="449.20" stroke="#333" stroke-width="0.9"/>
<text x="22.20" y="451.80" font-size="7.6" text-anchor="end" font-weight="normal" font-style="normal" fill="#4d4d4d">-6</text>
<line x1="23.30" y1="489.60" x2="26.00" y2="489.60" stroke="#333" stroke-width="0.9"/>
<text x="22.20" y="492.20" font-size="7.6" text-anchor="end" font-weight="normal" font-style="normal" fill="#4d4d4d">-7</text>
<line x1="23.30" y1="530.00" x2="26.00" y2="530.00" stroke="#333" stroke-width="0.9"/>
<text x="22.20" y="532.60" font-size="7.6" text-anchor="end" font-weight="normal" font-style="normal" fill="#4d4d4d">-8</text>
<line x1="39.60" y1="557.50" x2="39.60" y2="559.90" stroke="#333" stroke-width="0.9"/>
<line x1="63.03" y1="557.50" x2="63.03" y2="559.90" stroke="#333" stroke-width="0.9"/>
<line x1="86.46" y1="557.50" x2="86.46" y2="559.90" stroke="#333" stroke-width="0.9"/>
<line x1="109.89" y1="557.50" x2="109.89" y2="559.90" stroke="#333" stroke-width="0.9"/>
<line x1="133.32" y1="557.50" x2="133.32" y2="559.90" stroke="#333" stroke-width="0.9"/>
<line x1="156.75" y1="557.50" x2="156.75" y2="559.90" stroke="#333" stroke-width="0.9"/>
<line x1="180.18" y1="557.50" x2="180.18" y2="559.90" stroke="#333" stroke-width="0.9"/>
<line x1="221.30" y1="557.50" x2="221.30" y2="559.90" stroke="#333" stroke-width="0.9"/>
<line x1="244.70" y1="557.50" x2="244.70" y2="559.90" stroke="#333" stroke-width="0.9"/>
<text x="42.40" y="562.40" font-size="8.5" text-anchor="end" font-weight="normal" font-style="normal" fill="#1a1a1a" transform="rotate(-90 42.4 562.4)" stroke="#1a1a1a" stroke-width="0.15">Colon</text>
<text x="65.83" y="562.40" font-size="8.5" text-anchor="end" font-weight="normal" font-style="normal" fill="#1a1a1a" transform="rotate(-90 65.83 562.4)" stroke="#1a1a1a" stroke-width="0.15">Liposarcoma</text>
<text x="89.26" y="562.40" font-size="8.5" text-anchor="end" font-weight="normal" font-style="normal" fill="#1a1a1a" transform="rotate(-90 89.26 562.4)" stroke="#1a1a1a" stroke-width="0.15">Lung</text>
<text x="112.69" y="562.40" font-size="8.5" text-anchor="end" font-weight="normal" font-style="normal" fill="#1a1a1a" transform="rotate(-90 112.68999999999998 562.4)" stroke="#1a1a1a" stroke-width="0.15">Neuroblastoma</text>
<text x="136.12" y="562.40" font-size="8.5" text-anchor="end" font-weight="normal" font-style="normal" fill="#1a1a1a" transform="rotate(-90 136.12 562.4)" stroke="#1a1a1a" stroke-width="0.15">Pancreas</text>
<text x="159.55" y="562.40" font-size="8.5" text-anchor="end" font-weight="normal" font-style="normal" fill="#1a1a1a" transform="rotate(-90 159.55 562.4)" stroke="#1a1a1a" stroke-width="0.15">Renal</text>
<text x="178.58" y="562.40" font-size="8.5" text-anchor="end" font-weight="normal" font-style="normal" fill="#1a1a1a" transform="rotate(-90 178.57999999999998 562.4)" stroke="#1a1a1a" stroke-width="0.15">Synovial</text>
<text x="187.18" y="562.40" font-size="8.5" text-anchor="end" font-weight="normal" font-style="normal" fill="#1a1a1a" transform="rotate(-90 187.17999999999998 562.4)" stroke="#1a1a1a" stroke-width="0.15">sarcoma</text>
<text x="224.10" y="562.40" font-size="8.5" text-anchor="end" font-weight="normal" font-style="normal" fill="#1a1a1a" transform="rotate(-90 224.10000000000002 562.4)" stroke="#1a1a1a" stroke-width="0.15">Glioma, rat</text>
<text x="243.10" y="562.40" font-size="8.5" text-anchor="end" font-weight="normal" font-style="normal" fill="#1a1a1a" transform="rotate(-90 243.1 562.4)" stroke="#1a1a1a" stroke-width="0.15">Melanoma,</text>
<text x="251.70" y="562.40" font-size="8.5" text-anchor="end" font-weight="normal" font-style="normal" fill="#1a1a1a" transform="rotate(-90 251.7 562.4)" stroke="#1a1a1a" stroke-width="0.15">mouse</text>
<text x="7.5" y="475.6" font-size="8.0" text-anchor="middle" fill="#1a1a1a" stroke="#1a1a1a" stroke-width="0.15" transform="rotate(-90 7.5 475.6)">M8891 <tspan font-style="italic">IC</tspan><tspan font-size="5.8" dy="2.2">50</tspan><tspan dy="-2.2"> (mol/L), log</tspan><tspan font-size="5.8" dy="2.2">10</tspan></text>
<polygon points="39.90,388.90 43.20,392.20 39.90,395.50 36.60,392.20" fill="#1f9e75" stroke="#222" stroke-width="0.85"/>
<polygon points="63.50,390.00 66.80,393.30 63.50,396.60 60.20,393.30" fill="#e0711f" stroke="#222" stroke-width="0.85"/>
<polygon points="86.50,388.70 89.80,392.00 86.50,395.30 83.20,392.00" fill="#56bcc8" stroke="#222" stroke-width="0.85"/>
<polygon points="86.50,397.10 89.80,400.40 86.50,403.70 83.20,400.40" fill="#56bcc8" stroke="#222" stroke-width="0.85"/>
<polygon points="86.50,394.70 89.80,398.00 86.50,401.30 83.20,398.00" fill="#56bcc8" stroke="#222" stroke-width="0.85"/>
<polygon points="86.50,414.40 89.80,417.70 86.50,421.00 83.20,417.70" fill="#56bcc8" stroke="#222" stroke-width="0.85"/>
<polygon points="86.70,467.00 90.00,470.30 86.70,473.60 83.40,470.30" fill="#56bcc8" stroke="#222" stroke-width="0.85"/>
<polygon points="110.00,483.00 113.30,486.30 110.00,489.60 106.70,486.30" fill="#8c1218" stroke="#222" stroke-width="0.85"/>
<polygon points="133.40,399.50 136.70,402.80 133.40,406.10 130.10,402.80" fill="#e6d3e0" stroke="#222" stroke-width="0.85"/>
<polygon points="134.40,388.30 137.70,391.60 134.40,394.90 131.10,391.60" fill="#e6d3e0" stroke="#222" stroke-width="0.85"/>
<polygon points="133.40,389.50 136.70,392.80 133.40,396.10 130.10,392.80" fill="#e6d3e0" stroke="#222" stroke-width="0.85"/>
<polygon points="157.40,476.70 160.70,480.00 157.40,483.30 154.10,480.00" fill="#b9dcf2" stroke="#222" stroke-width="0.85"/>
<polygon points="180.20,484.00 183.50,487.30 180.20,490.60 176.90,487.30" fill="#d4389f" stroke="#222" stroke-width="0.85"/>
<polygon points="221.30,446.20 224.60,449.50 221.30,452.80 218.00,449.50" fill="#2f5a96" stroke="#222" stroke-width="0.85"/>
<polygon points="245.00,433.60 248.30,436.90 245.00,440.20 241.70,436.90" fill="#c23c6a" stroke="#222" stroke-width="0.85"/>
<line x1="135.60" y1="391.90" x2="143.00" y2="388.20" stroke="#333" stroke-width="0.8"/>
<text x="44.50" y="402.00" font-size="8.1" text-anchor="middle" font-weight="normal" font-style="normal" fill="#1a1a1a" letter-spacing="-0.4" stroke="#1a1a1a" stroke-width="0.18">HCT 116</text>
<text x="55.40" y="389.30" font-size="8.1" text-anchor="middle" font-weight="normal" font-style="normal" fill="#1a1a1a" letter-spacing="-0.4" stroke="#1a1a1a" stroke-width="0.18">SW872</text>
<text x="89.10" y="389.30" font-size="8.1" text-anchor="middle" font-weight="normal" font-style="normal" fill="#1a1a1a" letter-spacing="-0.4" stroke="#1a1a1a" stroke-width="0.18">HCC827</text>
<text x="100.40" y="400.50" font-size="8.1" text-anchor="middle" font-weight="normal" font-style="normal" fill="#1a1a1a" letter-spacing="-0.4" stroke="#1a1a1a" stroke-width="0.18">PC-9</text>
<text x="85.40" y="411.30" font-size="8.1" text-anchor="middle" font-weight="normal" font-style="normal" fill="#1a1a1a" letter-spacing="-0.4" stroke="#1a1a1a" stroke-width="0.18">NCI-H1975</text>
<text x="80.60" y="427.80" font-size="8.1" text-anchor="middle" font-weight="normal" font-style="normal" fill="#1a1a1a" letter-spacing="-0.4" stroke="#1a1a1a" stroke-width="0.18">NCI-H460</text>
<text x="124.30" y="389.80" font-size="8.1" text-anchor="middle" font-weight="normal" font-style="normal" fill="#1a1a1a" letter-spacing="-0.4" stroke="#1a1a1a" stroke-width="0.18">BxPC-3</text>
<text x="158.90" y="390.50" font-size="8.1" text-anchor="middle" font-weight="normal" font-style="normal" fill="#1a1a1a" letter-spacing="-0.4" stroke="#1a1a1a" stroke-width="0.18">SW1990</text>
<text x="146.40" y="401.60" font-size="8.1" text-anchor="middle" font-weight="normal" font-style="normal" fill="#1a1a1a" letter-spacing="-0.4" stroke="#1a1a1a" stroke-width="0.18">KP-4</text>
<text x="127.60" y="411.70" font-size="8.1" text-anchor="middle" font-weight="normal" font-style="normal" fill="#1a1a1a" letter-spacing="-0.4" stroke="#1a1a1a" stroke-width="0.18">PANC-1</text>
<text x="81.20" y="479.70" font-size="8.1" text-anchor="middle" font-weight="normal" font-style="normal" fill="#1a1a1a" letter-spacing="-0.4" stroke="#1a1a1a" stroke-width="0.18">A549</text>
<text x="116.50" y="482.80" font-size="8.1" text-anchor="middle" font-weight="normal" font-style="normal" fill="#1a1a1a" letter-spacing="-0.4" stroke="#1a1a1a" stroke-width="0.18">IMR-5</text>
<text x="150.90" y="477.10" font-size="8.1" text-anchor="middle" font-weight="normal" font-style="normal" fill="#1a1a1a" letter-spacing="-0.4" stroke="#1a1a1a" stroke-width="0.18">Caki-1</text>
<text x="174.60" y="496.50" font-size="8.1" text-anchor="middle" font-weight="normal" font-style="normal" fill="#1a1a1a" letter-spacing="-0.4" stroke="#1a1a1a" stroke-width="0.18">SW982</text>
<text x="224.60" y="445.80" font-size="8.1" text-anchor="middle" font-weight="normal" font-style="normal" fill="#1a1a1a" letter-spacing="-0.4" stroke="#1a1a1a" stroke-width="0.18">C6</text>
<text x="249.10" y="433.60" font-size="8.1" text-anchor="middle" font-weight="normal" font-style="normal" fill="#1a1a1a" letter-spacing="-0.4" stroke="#1a1a1a" stroke-width="0.18">B16-F10</text>
<text x="4.90" y="370.90" font-size="17.6" text-anchor="start" font-weight="bold" font-style="normal" fill="#000">D</text>
<rect x="307.5" y="375.0" width="210.5" height="180.5" fill="#fff"/>
<line x1="307.50" y1="382.75" x2="518.00" y2="382.75" stroke="#f5f5f5" stroke-width="0.6"/>
<line x1="307.50" y1="423.85" x2="518.00" y2="423.85" stroke="#f5f5f5" stroke-width="0.6"/>
<line x1="307.50" y1="464.95" x2="518.00" y2="464.95" stroke="#f5f5f5" stroke-width="0.6"/>
<line x1="307.50" y1="506.05" x2="518.00" y2="506.05" stroke="#f5f5f5" stroke-width="0.6"/>
<line x1="307.50" y1="547.15" x2="518.00" y2="547.15" stroke="#f5f5f5" stroke-width="0.6"/>
<line x1="307.50" y1="403.30" x2="518.00" y2="403.30" stroke="#ededed" stroke-width="0.9"/>
<line x1="307.50" y1="444.40" x2="518.00" y2="444.40" stroke="#ededed" stroke-width="0.9"/>
<line x1="307.50" y1="485.50" x2="518.00" y2="485.50" stroke="#ededed" stroke-width="0.9"/>
<line x1="307.50" y1="526.60" x2="518.00" y2="526.60" stroke="#ededed" stroke-width="0.9"/>
<line x1="317.80" y1="375.00" x2="317.80" y2="555.50" stroke="#ededed" stroke-width="0.9"/>
<line x1="335.14" y1="375.00" x2="335.14" y2="555.50" stroke="#ededed" stroke-width="0.9"/>
<line x1="352.48" y1="375.00" x2="352.48" y2="555.50" stroke="#ededed" stroke-width="0.9"/>
<line x1="369.82" y1="375.00" x2="369.82" y2="555.50" stroke="#ededed" stroke-width="0.9"/>
<line x1="387.16" y1="375.00" x2="387.16" y2="555.50" stroke="#ededed" stroke-width="0.9"/>
<line x1="404.50" y1="375.00" x2="404.50" y2="555.50" stroke="#ededed" stroke-width="0.9"/>
<line x1="421.84" y1="375.00" x2="421.84" y2="555.50" stroke="#ededed" stroke-width="0.9"/>
<line x1="439.18" y1="375.00" x2="439.18" y2="555.50" stroke="#ededed" stroke-width="0.9"/>
<line x1="456.52" y1="375.00" x2="456.52" y2="555.50" stroke="#ededed" stroke-width="0.9"/>
<line x1="473.86" y1="375.00" x2="473.86" y2="555.50" stroke="#ededed" stroke-width="0.9"/>
<line x1="491.20" y1="375.00" x2="491.20" y2="555.50" stroke="#ededed" stroke-width="0.9"/>
<line x1="508.54" y1="375.00" x2="508.54" y2="555.50" stroke="#ededed" stroke-width="0.9"/>
<line x1="307.5" y1="444.40" x2="518.0" y2="444.40" stroke="#f0b0a8" stroke-width="1.1" stroke-dasharray="3.9,3.8"/>
<rect x="307.5" y="375.0" width="210.5" height="180.5" fill="none" stroke="#8a8a8a" stroke-width="1"/>
<line x1="304.80" y1="403.30" x2="307.50" y2="403.30" stroke="#333" stroke-width="0.9"/>
<text x="303.90" y="405.80" font-size="7.2" text-anchor="end" font-weight="normal" font-style="normal" fill="#4d4d4d">-5</text>
<line x1="304.80" y1="444.40" x2="307.50" y2="444.40" stroke="#333" stroke-width="0.9"/>
<text x="303.90" y="446.90" font-size="7.2" text-anchor="end" font-weight="normal" font-style="normal" fill="#4d4d4d">-6</text>
<line x1="304.80" y1="485.50" x2="307.50" y2="485.50" stroke="#333" stroke-width="0.9"/>
<text x="303.90" y="488.00" font-size="7.2" text-anchor="end" font-weight="normal" font-style="normal" fill="#4d4d4d">-7</text>
<line x1="304.80" y1="526.60" x2="307.50" y2="526.60" stroke="#333" stroke-width="0.9"/>
<text x="303.90" y="529.10" font-size="7.2" text-anchor="end" font-weight="normal" font-style="normal" fill="#4d4d4d">-8</text>
<line x1="317.80" y1="555.50" x2="317.80" y2="557.70" stroke="#333" stroke-width="0.9"/>
<text x="320.60" y="561.20" font-size="8.05" text-anchor="end" font-weight="normal" font-style="normal" fill="#1a1a1a" transform="rotate(-90 320.6 561.2)" stroke="#1a1a1a" stroke-width="0.15">Bladder</text>
<line x1="335.14" y1="555.50" x2="335.14" y2="557.70" stroke="#333" stroke-width="0.9"/>
<text x="337.94" y="561.20" font-size="8.05" text-anchor="end" font-weight="normal" font-style="normal" fill="#1a1a1a" transform="rotate(-90 337.94 561.2)" stroke="#1a1a1a" stroke-width="0.15">Breast</text>
<line x1="352.48" y1="555.50" x2="352.48" y2="557.70" stroke="#333" stroke-width="0.9"/>
<text x="355.28" y="561.20" font-size="8.05" text-anchor="end" font-weight="normal" font-style="normal" fill="#1a1a1a" transform="rotate(-90 355.28000000000003 561.2)" stroke="#1a1a1a" stroke-width="0.15">Colon</text>
<line x1="369.82" y1="555.50" x2="369.82" y2="557.70" stroke="#333" stroke-width="0.9"/>
<text x="372.62" y="561.20" font-size="8.05" text-anchor="end" font-weight="normal" font-style="normal" fill="#1a1a1a" transform="rotate(-90 372.62 561.2)" stroke="#1a1a1a" stroke-width="0.15">Head &amp; Neck</text>
<line x1="387.16" y1="555.50" x2="387.16" y2="557.70" stroke="#333" stroke-width="0.9"/>
<text x="389.96" y="561.20" font-size="8.05" text-anchor="end" font-weight="normal" font-style="normal" fill="#1a1a1a" transform="rotate(-90 389.96000000000004 561.2)" stroke="#1a1a1a" stroke-width="0.15">Liver</text>
<line x1="404.50" y1="555.50" x2="404.50" y2="557.70" stroke="#333" stroke-width="0.9"/>
<text x="407.30" y="561.20" font-size="8.05" text-anchor="end" font-weight="normal" font-style="normal" fill="#1a1a1a" transform="rotate(-90 407.3 561.2)" stroke="#1a1a1a" stroke-width="0.15">Lung</text>
<line x1="421.84" y1="555.50" x2="421.84" y2="557.70" stroke="#333" stroke-width="0.9"/>
<text x="424.64" y="561.20" font-size="8.05" text-anchor="end" font-weight="normal" font-style="normal" fill="#1a1a1a" transform="rotate(-90 424.64000000000004 561.2)" stroke="#1a1a1a" stroke-width="0.15">Melanoma</text>
<line x1="439.18" y1="555.50" x2="439.18" y2="557.70" stroke="#333" stroke-width="0.9"/>
<text x="441.98" y="561.20" font-size="8.05" text-anchor="end" font-weight="normal" font-style="normal" fill="#1a1a1a" transform="rotate(-90 441.98 561.2)" stroke="#1a1a1a" stroke-width="0.15">Ovarian</text>
<line x1="456.52" y1="555.50" x2="456.52" y2="557.70" stroke="#333" stroke-width="0.9"/>
<text x="459.32" y="561.20" font-size="8.05" text-anchor="end" font-weight="normal" font-style="normal" fill="#1a1a1a" transform="rotate(-90 459.32 561.2)" stroke="#1a1a1a" stroke-width="0.15">Pancreas</text>
<line x1="473.86" y1="555.50" x2="473.86" y2="557.70" stroke="#333" stroke-width="0.9"/>
<text x="476.66" y="561.20" font-size="8.05" text-anchor="end" font-weight="normal" font-style="normal" fill="#1a1a1a" transform="rotate(-90 476.66 561.2)" stroke="#1a1a1a" stroke-width="0.15">Renal</text>
<line x1="491.20" y1="555.50" x2="491.20" y2="557.70" stroke="#333" stroke-width="0.9"/>
<text x="494.00" y="561.20" font-size="8.05" text-anchor="end" font-weight="normal" font-style="normal" fill="#1a1a1a" transform="rotate(-90 494.00000000000006 561.2)" stroke="#1a1a1a" stroke-width="0.15">Sarcoma</text>
<line x1="508.54" y1="555.50" x2="508.54" y2="557.70" stroke="#333" stroke-width="0.9"/>
<text x="511.34" y="561.20" font-size="8.05" text-anchor="end" font-weight="normal" font-style="normal" fill="#1a1a1a" transform="rotate(-90 511.34000000000003 561.2)" stroke="#1a1a1a" stroke-width="0.15">Stomach</text>
<text x="289.6" y="476.3" font-size="7.6" text-anchor="middle" fill="#1a1a1a" stroke="#1a1a1a" stroke-width="0.15" transform="rotate(-90 289.6 476.3)">M8891 <tspan font-style="italic">IC</tspan><tspan font-size="5.5" dy="2.1">50</tspan><tspan dy="-2.1"> (mol/L), log</tspan><tspan font-size="5.5" dy="2.1">10</tspan></text>
<text x="281.40" y="371.00" font-size="17.6" text-anchor="start" font-weight="bold" font-style="normal" fill="#000">E</text>
<polygon points="316.40,397.00 319.60,400.20 316.40,403.40 313.20,400.20" fill="#3f2a7c" stroke="#222" stroke-width="0.85"/>
<polygon points="317.40,398.80 320.60,402.00 317.40,405.20 314.20,402.00" fill="#3f2a7c" stroke="#222" stroke-width="0.85"/>
<polygon points="319.60,401.80 322.80,405.00 319.60,408.20 316.40,405.00" fill="#3f2a7c" stroke="#222" stroke-width="0.85"/>
<polygon points="318.80,481.60 322.00,484.80 318.80,488.00 315.60,484.80" fill="#3f2a7c" stroke="#222" stroke-width="0.85"/>
<polygon points="335.50,398.40 338.70,401.60 335.50,404.80 332.30,401.60" fill="#2d6db3" stroke="#222" stroke-width="0.85"/>
<polygon points="335.50,404.10 338.70,407.30 335.50,410.50 332.30,407.30" fill="#2d6db3" stroke="#222" stroke-width="0.85"/>
<polygon points="337.20,488.50 340.40,491.70 337.20,494.90 334.00,491.70" fill="#2d6db3" stroke="#222" stroke-width="0.85"/>
<polygon points="334.40,499.30 337.60,502.50 334.40,505.70 331.20,502.50" fill="#2d6db3" stroke="#222" stroke-width="0.85"/>
<polygon points="351.50,397.20 354.70,400.40 351.50,403.60 348.30,400.40" fill="#22895a" stroke="#222" stroke-width="0.85"/>
<polygon points="353.00,398.80 356.20,402.00 353.00,405.20 349.80,402.00" fill="#22895a" stroke="#222" stroke-width="0.85"/>
<polygon points="351.00,400.80 354.20,404.00 351.00,407.20 347.80,404.00" fill="#22895a" stroke="#222" stroke-width="0.85"/>
<polygon points="352.50,402.80 355.70,406.00 352.50,409.20 349.30,406.00" fill="#22895a" stroke="#222" stroke-width="0.85"/>
<polygon points="352.50,405.60 355.70,408.80 352.50,412.00 349.30,408.80" fill="#22895a" stroke="#222" stroke-width="0.85"/>
<polygon points="352.10,422.30 355.30,425.50 352.10,428.70 348.90,425.50" fill="#22895a" stroke="#222" stroke-width="0.85"/>
<polygon points="350.90,459.30 354.10,462.50 350.90,465.70 347.70,462.50" fill="#22895a" stroke="#222" stroke-width="0.85"/>
<polygon points="352.50,461.60 355.70,464.80 352.50,468.00 349.30,464.80" fill="#22895a" stroke="#222" stroke-width="0.85"/>
<polygon points="354.40,464.30 357.60,467.50 354.40,470.70 351.20,467.50" fill="#22895a" stroke="#222" stroke-width="0.85"/>
<polygon points="350.20,469.70 353.40,472.90 350.20,476.10 347.00,472.90" fill="#22895a" stroke="#222" stroke-width="0.85"/>
<polygon points="350.60,478.60 353.80,481.80 350.60,485.00 347.40,481.80" fill="#22895a" stroke="#222" stroke-width="0.85"/>
<polygon points="354.40,479.20 357.60,482.40 354.40,485.60 351.20,482.40" fill="#22895a" stroke="#222" stroke-width="0.85"/>
<polygon points="351.10,490.80 354.30,494.00 351.10,497.20 347.90,494.00" fill="#22895a" stroke="#222" stroke-width="0.85"/>
<polygon points="351.70,493.70 354.90,496.90 351.70,500.10 348.50,496.90" fill="#22895a" stroke="#222" stroke-width="0.85"/>
<polygon points="351.90,508.10 355.10,511.30 351.90,514.50 348.70,511.30" fill="#22895a" stroke="#222" stroke-width="0.85"/>
<polygon points="354.00,532.90 357.20,536.10 354.00,539.30 350.80,536.10" fill="#22895a" stroke="#222" stroke-width="0.85"/>
<polygon points="367.80,396.70 371.00,399.90 367.80,403.10 364.60,399.90" fill="#b42b57" stroke="#222" stroke-width="0.85"/>
<polygon points="368.50,489.40 371.70,492.60 368.50,495.80 365.30,492.60" fill="#b42b57" stroke="#222" stroke-width="0.85"/>
<polygon points="370.50,495.30 373.70,498.50 370.50,501.70 367.30,498.50" fill="#b42b57" stroke="#222" stroke-width="0.85"/>
<polygon points="371.50,500.60 374.70,503.80 371.50,507.00 368.30,503.80" fill="#b42b57" stroke="#222" stroke-width="0.85"/>
<polygon points="387.40,403.40 390.60,406.60 387.40,409.80 384.20,406.60" fill="#d24a8c" stroke="#222" stroke-width="0.85"/>
<polygon points="385.80,468.90 389.00,472.10 385.80,475.30 382.60,472.10" fill="#d24a8c" stroke="#222" stroke-width="0.85"/>
<polygon points="401.50,395.80 404.70,399.00 401.50,402.20 398.30,399.00" fill="#3ab4c6" stroke="#222" stroke-width="0.85"/>
<polygon points="405.50,396.30 408.70,399.50 405.50,402.70 402.30,399.50" fill="#3ab4c6" stroke="#222" stroke-width="0.85"/>
<polygon points="402.00,399.30 405.20,402.50 402.00,405.70 398.80,402.50" fill="#3ab4c6" stroke="#222" stroke-width="0.85"/>
<polygon points="406.00,398.80 409.20,402.00 406.00,405.20 402.80,402.00" fill="#3ab4c6" stroke="#222" stroke-width="0.85"/>
<polygon points="402.00,401.80 405.20,405.00 402.00,408.20 398.80,405.00" fill="#3ab4c6" stroke="#222" stroke-width="0.85"/>
<polygon points="405.50,403.80 408.70,407.00 405.50,410.20 402.30,407.00" fill="#3ab4c6" stroke="#222" stroke-width="0.85"/>
<polygon points="404.00,408.30 407.20,411.50 404.00,414.70 400.80,411.50" fill="#3ab4c6" stroke="#222" stroke-width="0.85"/>
<polygon points="403.50,453.30 406.70,456.50 403.50,459.70 400.30,456.50" fill="#3ab4c6" stroke="#222" stroke-width="0.85"/>
<polygon points="404.50,457.30 407.70,460.50 404.50,463.70 401.30,460.50" fill="#3ab4c6" stroke="#222" stroke-width="0.85"/>
<polygon points="404.00,461.30 407.20,464.50 404.00,467.70 400.80,464.50" fill="#3ab4c6" stroke="#222" stroke-width="0.85"/>
<polygon points="405.00,464.80 408.20,468.00 405.00,471.20 401.80,468.00" fill="#3ab4c6" stroke="#222" stroke-width="0.85"/>
<polygon points="403.00,467.30 406.20,470.50 403.00,473.70 399.80,470.50" fill="#3ab4c6" stroke="#222" stroke-width="0.85"/>
<polygon points="405.50,469.30 408.70,472.50 405.50,475.70 402.30,472.50" fill="#3ab4c6" stroke="#222" stroke-width="0.85"/>
<polygon points="402.50,471.80 405.70,475.00 402.50,478.20 399.30,475.00" fill="#3ab4c6" stroke="#222" stroke-width="0.85"/>
<polygon points="405.00,473.80 408.20,477.00 405.00,480.20 401.80,477.00" fill="#3ab4c6" stroke="#222" stroke-width="0.85"/>
<polygon points="403.00,476.30 406.20,479.50 403.00,482.70 399.80,479.50" fill="#3ab4c6" stroke="#222" stroke-width="0.85"/>
<polygon points="406.00,477.80 409.20,481.00 406.00,484.20 402.80,481.00" fill="#3ab4c6" stroke="#222" stroke-width="0.85"/>
<polygon points="402.50,479.80 405.70,483.00 402.50,486.20 399.30,483.00" fill="#3ab4c6" stroke="#222" stroke-width="0.85"/>
<polygon points="405.00,481.30 408.20,484.50 405.00,487.70 401.80,484.50" fill="#3ab4c6" stroke="#222" stroke-width="0.85"/>
<polygon points="403.50,483.30 406.70,486.50 403.50,489.70 400.30,486.50" fill="#3ab4c6" stroke="#222" stroke-width="0.85"/>
<polygon points="405.50,485.30 408.70,488.50 405.50,491.70 402.30,488.50" fill="#3ab4c6" stroke="#222" stroke-width="0.85"/>
<polygon points="403.00,486.80 406.20,490.00 403.00,493.20 399.80,490.00" fill="#3ab4c6" stroke="#222" stroke-width="0.85"/>
<polygon points="404.50,488.80 407.70,492.00 404.50,495.20 401.30,492.00" fill="#3ab4c6" stroke="#222" stroke-width="0.85"/>
<polygon points="406.00,490.80 409.20,494.00 406.00,497.20 402.80,494.00" fill="#3ab4c6" stroke="#222" stroke-width="0.85"/>
<polygon points="403.00,499.60 406.20,502.80 403.00,506.00 399.80,502.80" fill="#3ab4c6" stroke="#222" stroke-width="0.85"/>
<polygon points="419.60,398.00 422.80,401.20 419.60,404.40 416.40,401.20" fill="#a9b95a" stroke="#222" stroke-width="0.85"/>
<polygon points="422.70,397.20 425.90,400.40 422.70,403.60 419.50,400.40" fill="#a9b95a" stroke="#222" stroke-width="0.85"/>
<polygon points="422.40,465.50 425.60,468.70 422.40,471.90 419.20,468.70" fill="#a9b95a" stroke="#222" stroke-width="0.85"/>
<polygon points="438.80,397.20 442.00,400.40 438.80,403.60 435.60,400.40" fill="#e3c23e" stroke="#222" stroke-width="0.85"/>
<polygon points="437.70,485.80 440.90,489.00 437.70,492.20 434.50,489.00" fill="#e3c23e" stroke="#222" stroke-width="0.85"/>
<polygon points="439.30,500.50 442.50,503.70 439.30,506.90 436.10,503.70" fill="#e3c23e" stroke="#222" stroke-width="0.85"/>
<polygon points="455.80,395.50 459.00,398.70 455.80,401.90 452.60,398.70" fill="#ecdae4" stroke="#222" stroke-width="0.85"/>
<polygon points="458.00,394.80 461.20,398.00 458.00,401.20 454.80,398.00" fill="#ecdae4" stroke="#222" stroke-width="0.85"/>
<polygon points="455.10,398.40 458.30,401.60 455.10,404.80 451.90,401.60" fill="#ecdae4" stroke="#222" stroke-width="0.85"/>
<polygon points="457.30,403.40 460.50,406.60 457.30,409.80 454.10,406.60" fill="#ecdae4" stroke="#222" stroke-width="0.85"/>
<polygon points="457.30,411.40 460.50,414.60 457.30,417.80 454.10,414.60" fill="#ecdae4" stroke="#222" stroke-width="0.85"/>
<polygon points="455.00,456.40 458.20,459.60 455.00,462.80 451.80,459.60" fill="#ecdae4" stroke="#222" stroke-width="0.85"/>
<polygon points="456.50,459.80 459.70,463.00 456.50,466.20 453.30,463.00" fill="#ecdae4" stroke="#222" stroke-width="0.85"/>
<polygon points="458.00,462.80 461.20,466.00 458.00,469.20 454.80,466.00" fill="#ecdae4" stroke="#222" stroke-width="0.85"/>
<polygon points="455.00,466.30 458.20,469.50 455.00,472.70 451.80,469.50" fill="#ecdae4" stroke="#222" stroke-width="0.85"/>
<polygon points="457.50,469.30 460.70,472.50 457.50,475.70 454.30,472.50" fill="#ecdae4" stroke="#222" stroke-width="0.85"/>
<polygon points="455.50,472.30 458.70,475.50 455.50,478.70 452.30,475.50" fill="#ecdae4" stroke="#222" stroke-width="0.85"/>
<polygon points="458.50,474.80 461.70,478.00 458.50,481.20 455.30,478.00" fill="#ecdae4" stroke="#222" stroke-width="0.85"/>
<polygon points="456.00,477.80 459.20,481.00 456.00,484.20 452.80,481.00" fill="#ecdae4" stroke="#222" stroke-width="0.85"/>
<polygon points="459.00,479.80 462.20,483.00 459.00,486.20 455.80,483.00" fill="#ecdae4" stroke="#222" stroke-width="0.85"/>
<polygon points="455.50,483.30 458.70,486.50 455.50,489.70 452.30,486.50" fill="#ecdae4" stroke="#222" stroke-width="0.85"/>
<polygon points="458.00,485.80 461.20,489.00 458.00,492.20 454.80,489.00" fill="#ecdae4" stroke="#222" stroke-width="0.85"/>
<polygon points="457.00,495.60 460.20,498.80 457.00,502.00 453.80,498.80" fill="#ecdae4" stroke="#222" stroke-width="0.85"/>
<polygon points="472.40,396.90 475.60,400.10 472.40,403.30 469.20,400.10" fill="#86d2d0" stroke="#222" stroke-width="0.85"/>
<polygon points="475.30,395.50 478.50,398.70 475.30,401.90 472.10,398.70" fill="#86d2d0" stroke="#222" stroke-width="0.85"/>
<polygon points="471.70,399.80 474.90,403.00 471.70,406.20 468.50,403.00" fill="#86d2d0" stroke="#222" stroke-width="0.85"/>
<polygon points="473.80,400.60 477.00,403.80 473.80,407.00 470.60,403.80" fill="#86d2d0" stroke="#222" stroke-width="0.85"/>
<polygon points="476.00,398.40 479.20,401.60 476.00,404.80 472.80,401.60" fill="#86d2d0" stroke="#222" stroke-width="0.85"/>
<polygon points="472.40,402.70 475.60,405.90 472.40,409.10 469.20,405.90" fill="#86d2d0" stroke="#222" stroke-width="0.85"/>
<polygon points="473.10,470.60 476.30,473.80 473.10,477.00 469.90,473.80" fill="#86d2d0" stroke="#222" stroke-width="0.85"/>
<polygon points="475.60,473.30 478.80,476.50 475.60,479.70 472.40,476.50" fill="#86d2d0" stroke="#222" stroke-width="0.85"/>
<polygon points="491.40,396.50 494.60,399.70 491.40,402.90 488.20,399.70" fill="#cde2c0" stroke="#222" stroke-width="0.85"/>
<polygon points="491.20,464.10 494.40,467.30 491.20,470.50 488.00,467.30" fill="#cde2c0" stroke="#222" stroke-width="0.85"/>
<polygon points="489.00,484.60 492.20,487.80 489.00,491.00 485.80,487.80" fill="#cde2c0" stroke="#222" stroke-width="0.85"/>
<polygon points="490.30,499.70 493.50,502.90 490.30,506.10 487.10,502.90" fill="#cde2c0" stroke="#222" stroke-width="0.85"/>
<polygon points="507.70,396.90 510.90,400.10 507.70,403.30 504.50,400.10" fill="#fbe4cc" stroke="#222" stroke-width="0.85"/>
<polygon points="508.50,402.70 511.70,405.90 508.50,409.10 505.30,405.90" fill="#fbe4cc" stroke="#222" stroke-width="0.85"/>
<polygon points="509.40,447.40 512.60,450.60 509.40,453.80 506.20,450.60" fill="#fbe4cc" stroke="#222" stroke-width="0.85"/>
<polygon points="507.50,453.10 510.70,456.30 507.50,459.50 504.30,456.30" fill="#fbe4cc" stroke="#222" stroke-width="0.85"/>
<polygon points="508.80,472.40 512.00,475.60 508.80,478.80 505.60,475.60" fill="#fbe4cc" stroke="#222" stroke-width="0.85"/>
<polygon points="510.00,483.70 513.20,486.90 510.00,490.10 506.80,486.90" fill="#fbe4cc" stroke="#222" stroke-width="0.85"/>
<polygon points="510.00,486.80 513.20,490.00 510.00,493.20 506.80,490.00" fill="#fbe4cc" stroke="#222" stroke-width="0.85"/>
<polygon points="509.60,489.30 512.80,492.50 509.60,495.70 506.40,492.50" fill="#fbe4cc" stroke="#222" stroke-width="0.85"/>
<polygon points="506.50,492.40 509.70,495.60 506.50,498.80 503.30,495.60" fill="#fbe4cc" stroke="#222" stroke-width="0.85"/>
<polygon points="509.60,494.90 512.80,498.10 509.60,501.30 506.40,498.10" fill="#fbe4cc" stroke="#222" stroke-width="0.85"/>
<polygon points="508.80,496.80 512.00,500.00 508.80,503.20 505.60,500.00" fill="#fbe4cc" stroke="#222" stroke-width="0.85"/>
<line x1="363.80" y1="519.40" x2="355.80" y2="511.90" stroke="#000" stroke-width="1.0"/>
<polygon points="355.80,511.90 361.02,513.64 357.87,517.00" fill="#000"/>
<line x1="500.60" y1="517.50" x2="507.10" y2="504.00" stroke="#000" stroke-width="1.0"/>
<polygon points="507.10,504.00 507.00,509.50 502.86,507.51" fill="#000"/>
<text x="384.40" y="527.10" font-size="9.3" text-anchor="middle" font-weight="normal" font-style="normal" fill="#1a1a1a" stroke="#1a1a1a" stroke-width="0.2">CXF-1783</text>
<text x="492.60" y="530.60" font-size="9.3" text-anchor="middle" font-weight="normal" font-style="normal" fill="#1a1a1a" stroke="#1a1a1a" stroke-width="0.2">GXF-1172</text>
</g>
</svg>
</body></html>
